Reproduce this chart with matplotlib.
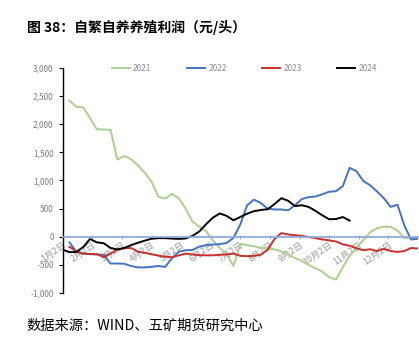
import matplotlib
matplotlib.use("Agg")
import matplotlib.pyplot as plt
import numpy as np

plt.rcParams['font.family'] = ['Noto Sans CJK SC', 'DejaVu Sans']
plt.rcParams['axes.unicode_minus'] = False

# weekly profit (yuan/head), week index from 1月2日
weeks_2021 = list(range(1, 53))
vals_2021 = [2420, 2310, 2300, 2110, 1910, 1906, 1900, 1370, 1436, 1380,
             1270, 1140, 980, 710, 680, 760, 680, 500, 270, 180,
             100, -70, -200, -310, -520, -125, -150, -170, -195, -215,
             -225, -260, -310, -380, -430, -500, -560, -620, -720, -760,
             -540, -340, -200, -60, 80, 150, 180, 175, 110, -20,
             -30, -20]

weeks_2022 = list(range(1, 53))
vals_2022 = [-100, -270, -300, -310, -315, -320, -476, -476, -480, -520,
             -545, -545, -535, -520, -536, -380, -265, -240, -235, -175,
             -150, -140, -130, -110, -20, 220, 560, 660, 600, 500,
             485, 485, 470, 560, 670, 705, 715, 755, 800, 810,
             900, 1225, 1165, 990, 915, 805, 685, 530, 570, 200,
             -50, -35]

weeks_2023 = list(range(1, 53))
vals_2023 = [-180, -260, -300, -305, -310, -360, -300, -230, -205, -200,
             -265, -285, -311, -335, -355, -365, -330, -300, -315, -330,
             -330, -330, -320, -315, -300, -340, -345, -340, -320, -230,
             -40, 65, 40, 27, 15, -5, -25, -48, -65, -85,
             -135, -160, -205, -240, -222, -255, -215, -255, -270, -255,
             -200, -210]

weeks_2024 = list(range(0, 43))
vals_2024 = [-230, -275, -270, -185, -40, -100, -115, -200, -225, -200,
             -150, -108, -70, -35, -25, -25, -33, -38, -30, 15,
             95, 225, 340, 415, 370, 293, 352, 410, 455, 475,
             490, 580, 685, 640, 545, 560, 530, 460, 380, 311,
             315, 350, 288]

month_labels = [f"{m}月2日" for m in range(1, 13)]
y_ticks = [3000, 2500, 2000, 1500, 1000, 500, 0, -500, -1000]

fig = plt.figure(figsize=(4.19, 3.37), dpi=100)
ax = fig.add_axes([0.1496, 0.1306, 0.8480, 0.6676])

ax.plot(weeks_2021, vals_2021, color='#A9D18E', lw=1.4, label='2021')
ax.plot(weeks_2022, vals_2022, color='#4472C4', lw=1.4, label='2022')
ax.plot(weeks_2023, vals_2023, color='#C9302C', lw=1.4, label='2023')
ax.plot(weeks_2024, vals_2024, color='black', lw=1.4, label='2024')

ax.set_xlim(0, 52)
ax.set_ylim(-1000, 3000)

ax.spines['top'].set_visible(False)
ax.spines['right'].set_visible(False)
ax.spines['bottom'].set_position(('data', 0))
ax.spines['bottom'].set_color('#8FAADC')
ax.spines['bottom'].set_linewidth(1.3)
ax.spines['left'].set_color('black')
ax.spines['left'].set_linewidth(1.0)

ax.set_yticks(y_ticks)
ax.set_yticklabels([f"{v:,}" for v in y_ticks])
ax.tick_params(axis='y', labelsize=6, colors='#7F7F7F', length=3, width=0.8)
ax.tick_params(axis='y', color='black')

month_pos = [52 / 12 * m for m in range(12)]
ax.set_xticks(month_pos)
ax.set_xticklabels(month_labels, rotation=35, ha='right', rotation_mode='anchor')
ax.tick_params(axis='x', labelsize=6.5, colors='#999999', length=3, width=0.8,
               direction='inout', pad=1)
ax.tick_params(axis='x', color='#8FAADC')

leg = ax.legend(ncol=4, loc='lower center', bbox_to_anchor=(0.512, 0.945),
                frameon=False, fontsize=6, handlelength=2.1, columnspacing=4.3,
                handletextpad=0.4)
for t in leg.get_texts():
    t.set_color('#8C8C8C')

fig.text(0.064, 0.918, "图 38：自繁自养养殖利润（元/头）", fontsize=10,
         fontweight='bold', va='center', ha='left')
fig.text(0.064, 0.035, "数据来源：WIND、五矿期货研究中心", fontsize=10.3,
         va='center', ha='left')

fig.savefig("out.png", dpi=100)
